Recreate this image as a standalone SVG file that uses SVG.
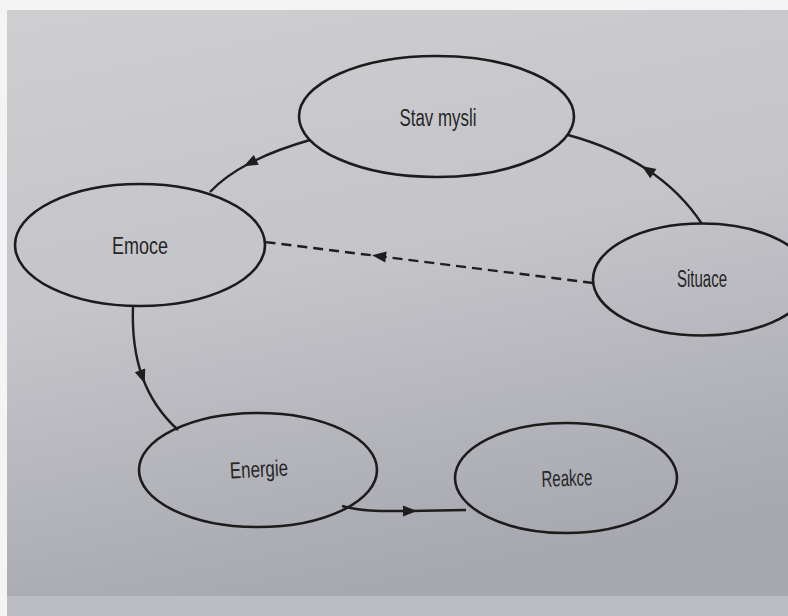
<svg xmlns="http://www.w3.org/2000/svg" width="788" height="616" viewBox="0 0 788 616">
<defs>
<linearGradient id="bg" x1="0" y1="0" x2="0.25" y2="1">
<stop offset="0" stop-color="#cfcfd1"/>
<stop offset="0.5" stop-color="#c4c4c9"/>
<stop offset="0.9" stop-color="#adadb5"/>
<stop offset="1" stop-color="#a8a8b1"/>
</linearGradient>
<marker id="arr" markerUnits="userSpaceOnUse" markerWidth="16" markerHeight="12" refX="7" refY="5.5" orient="auto" overflow="visible">
<path d="M0,0 L14,5.5 L0,11 z" fill="#1e1e1e"/>
</marker>
<style>
.node ellipse{fill:none;stroke:#1c1c1c;stroke-width:2.6}
.node text{font-family:"Liberation Sans",Arial,sans-serif;font-size:23px;fill:#262626;text-anchor:middle}
.conn path{fill:none;stroke:#1e1e1e;stroke-width:2.4;marker-mid:url(#arr)}
.dash{stroke-dasharray:10 6;stroke-width:3.2}
</style>
</defs>
<rect width="788" height="616" fill="url(#bg)"/>
<rect x="0" y="596" width="788" height="20" fill="#bcbcc4"/>
<rect x="0" y="0" width="788" height="10" fill="#f4f4f4"/>
<rect x="0" y="0" width="7" height="616" fill="#f4f4f4"/>
<g id="connectors" class="conn">
<path d="M310,140 Q275,150 250,163 Q225,176 210,192"/>
<path d="M702,224 Q681,192 647.5,169.75 Q614,147.5 568,135"/>
<path d="M133,306 C132,333 135,356.5 142.4,377 C149.75,397.5 161.5,415 178,430"/>
<path d="M342,506 C362,512 385,511 410,511 L466,510"/>
<path class="dash" d="M593,283 L379,256.2 L265,242"/>
</g>
<g id="stav" class="node">
<ellipse cx="436.5" cy="116.5" rx="137.5" ry="60.5"/>
<text x="438" y="126" textLength="77" lengthAdjust="spacingAndGlyphs">Stav mysli</text>
</g>
<g id="emoce" class="node">
<ellipse cx="140" cy="245" rx="125" ry="61"/>
<text x="140" y="254" textLength="56" lengthAdjust="spacingAndGlyphs">Emoce</text>
</g>
<g id="situace" class="node">
<ellipse cx="702" cy="279.5" rx="109" ry="56"/>
<text x="702" y="287" textLength="50" lengthAdjust="spacingAndGlyphs">Situace</text>
</g>
<g id="energie" class="node">
<ellipse cx="258" cy="470" rx="119" ry="57"/>
<text x="259" y="477" textLength="58" lengthAdjust="spacingAndGlyphs" transform="rotate(-3 259 471)">Energie</text>
</g>
<g id="reakce" class="node">
<ellipse cx="566" cy="478" rx="111" ry="55"/>
<text x="567" y="486" textLength="51" lengthAdjust="spacingAndGlyphs" transform="rotate(-2 567 480)">Reakce</text>
</g>
</svg>
